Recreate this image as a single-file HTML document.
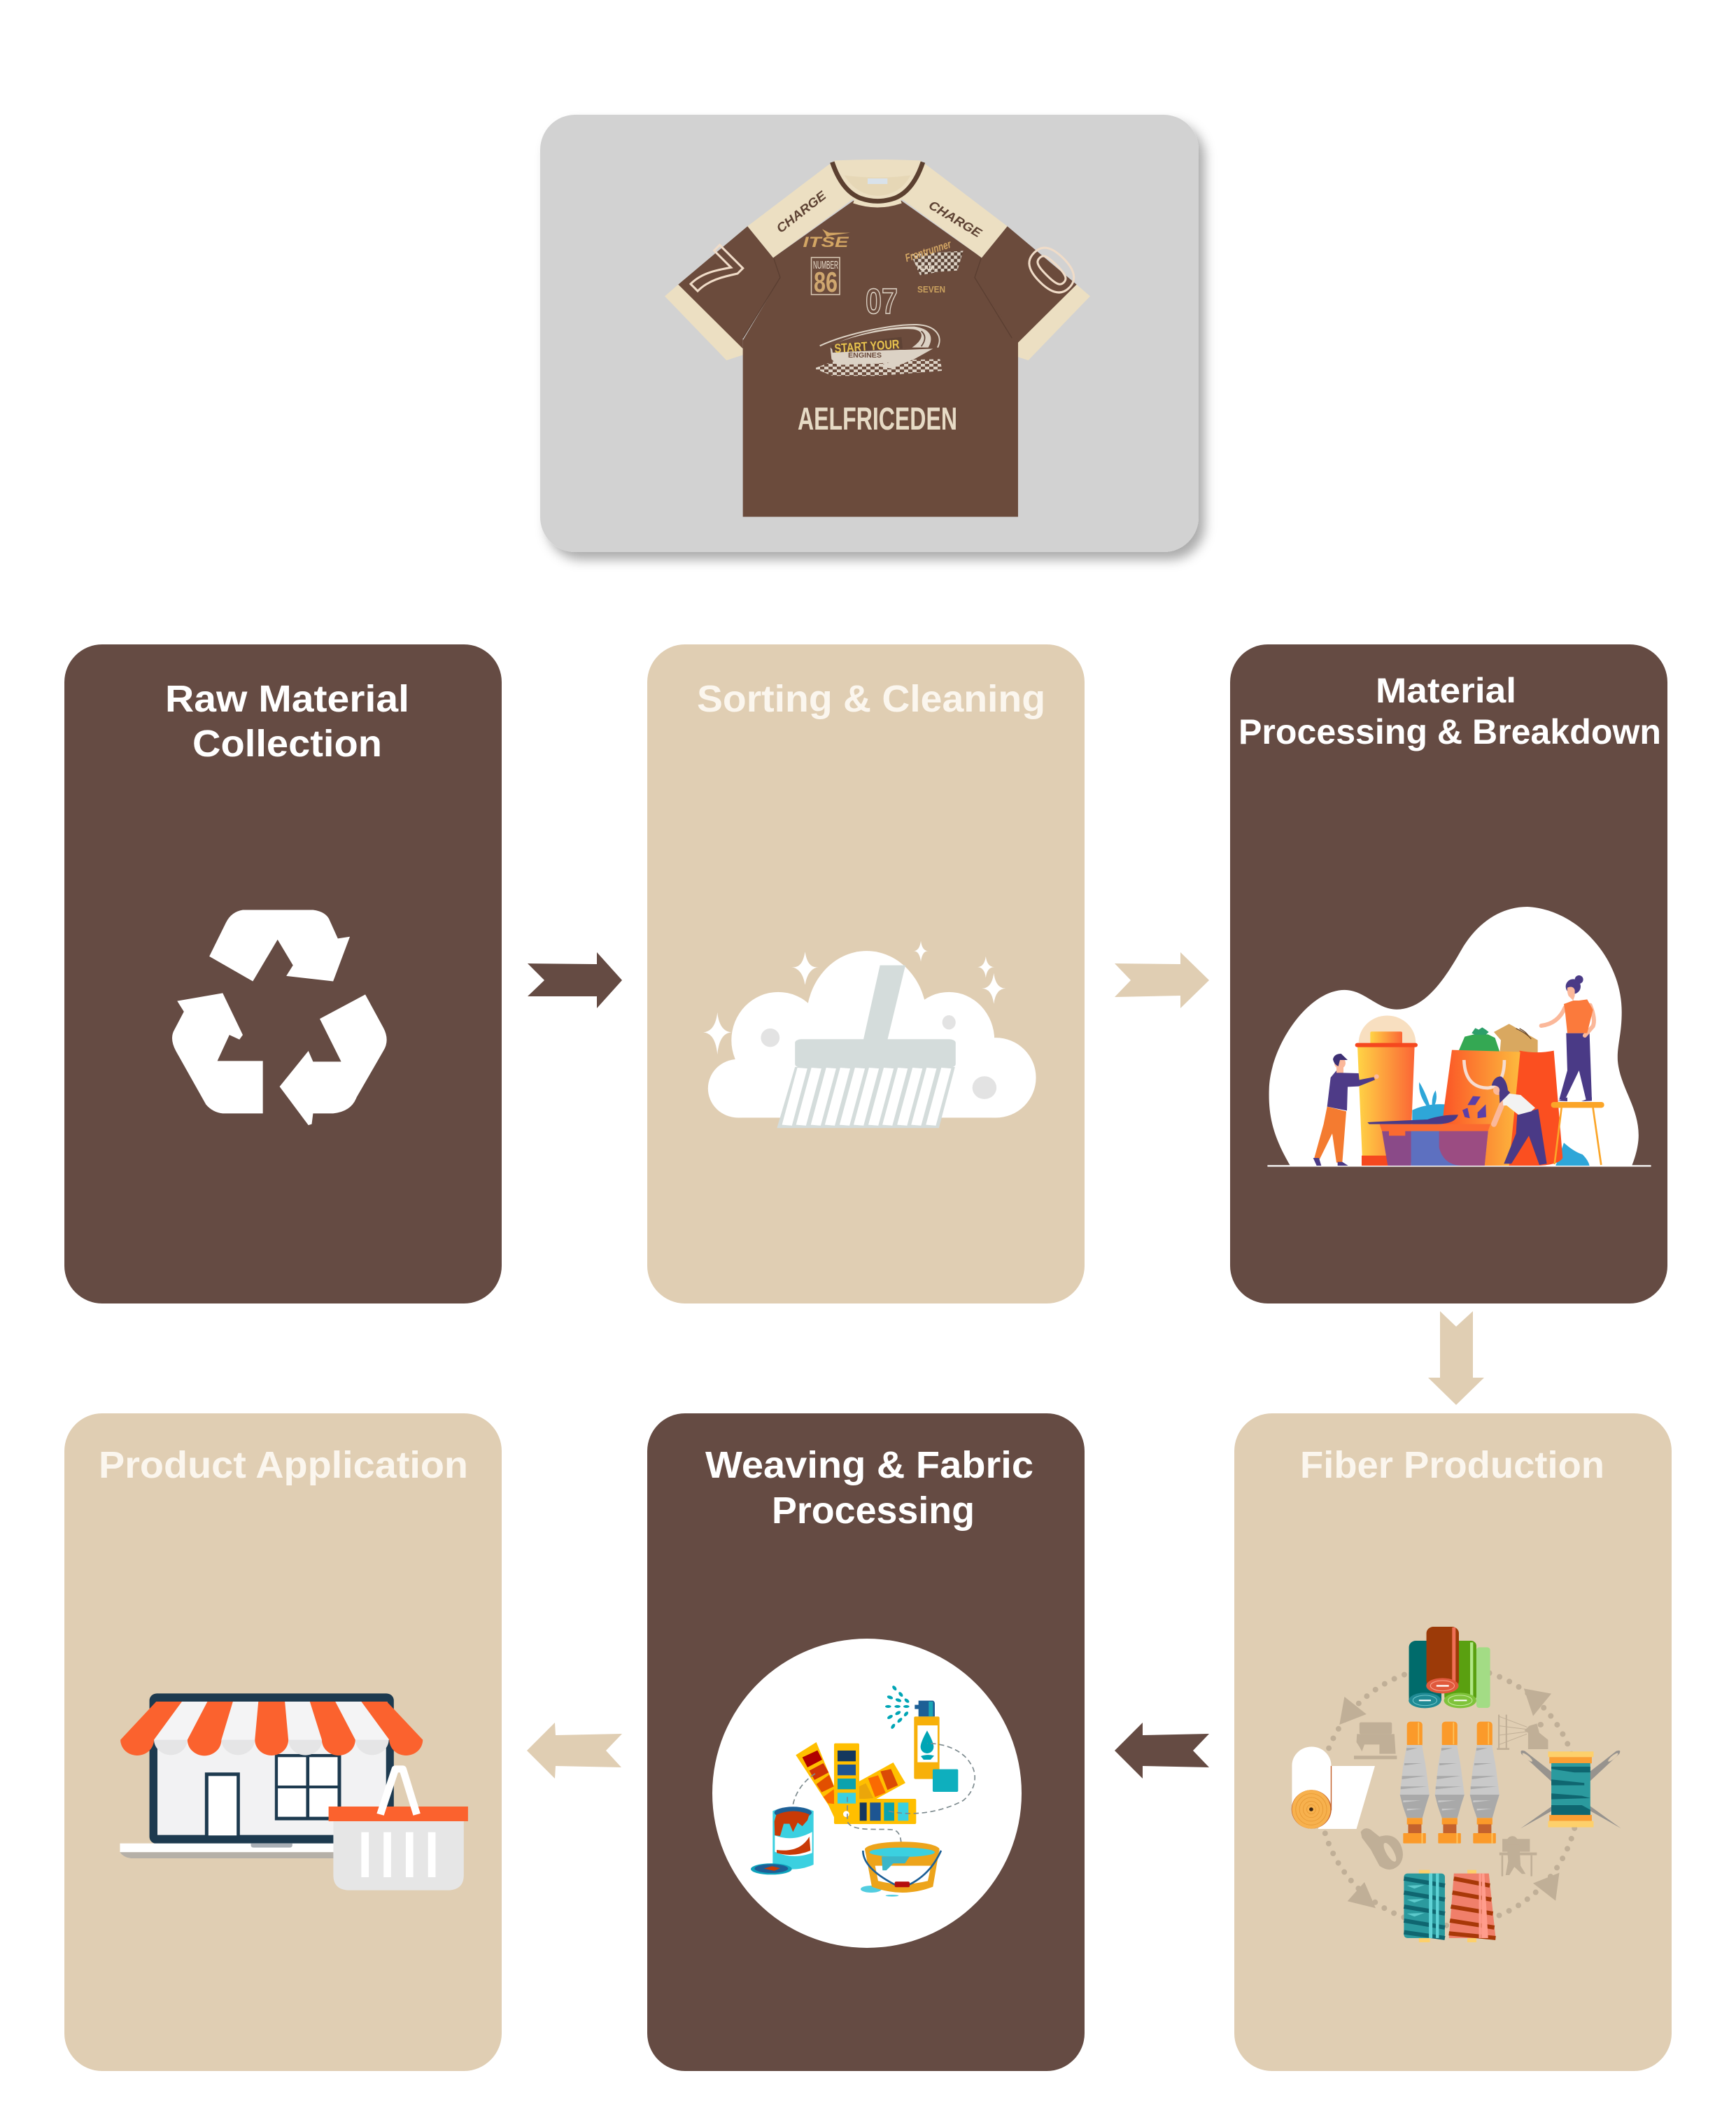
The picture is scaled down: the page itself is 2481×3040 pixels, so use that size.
<!DOCTYPE html>
<html><head><meta charset="utf-8"><style>
html,body{margin:0;padding:0;background:#fff}
svg{display:block}
text{font-family:"Liberation Sans",sans-serif}
</style></head><body>
<svg xmlns="http://www.w3.org/2000/svg" width="2481" height="3040" viewBox="0 0 2481 3040">
<defs>
<filter id="sh" x="-10%" y="-10%" width="125%" height="125%"><feDropShadow dx="9" dy="11" stdDeviation="8" flood-color="#000" flood-opacity=".33"/></filter>
<linearGradient id="gBin" x1="0" x2="1" y1="0" y2="0"><stop offset="0" stop-color="#ffd445"/><stop offset="1" stop-color="#fb6535"/></linearGradient>
<linearGradient id="gBag" x1="0" x2="1" y1="0" y2="0"><stop offset="0" stop-color="#fb5025"/><stop offset="1" stop-color="#fdba3e"/></linearGradient>
<pattern id="chk" width="36" height="24" patternUnits="userSpaceOnUse"><rect width="18" height="12" fill="#dcd2c5"/><rect x="18" y="12" width="18" height="12" fill="#dcd2c5"/></pattern>
<pattern id="chk2" width="28" height="28" patternUnits="userSpaceOnUse"><rect width="14" height="14" fill="#dcd2c5"/><rect x="14" y="14" width="14" height="14" fill="#dcd2c5"/></pattern>
<g id="bob">
<rect x="590" y="512" width="62" height="110" rx="14" fill="#fb9a2a"/><rect x="634" y="515" width="5" height="95" fill="#fdc25c"/>
<polygon points="590,612 650,612 665,700 680,825 650,925 592,925 562,825 575,700" fill="#c9c9c9"/>
<path d="M588 625h45l-45 12zM580 690h70l-70 10zM570 745h95l-95 14zM565 790h105l-105 12zM562 825h118l-12 40-16 60h-62l-16-50z" fill="#a9a9a9"/>
<path d="M575 850h70l-70 8zM590 885h60l-60 8z" fill="#c9c9c9"/>
<rect x="590" y="925" width="62" height="28" fill="#fb9a2a"/>
<rect x="595" y="952" width="53" height="40" fill="#c4622d"/>
<rect x="575" y="990" width="91" height="44" rx="3" fill="#fb9a2a"/><rect x="648" y="990" width="6" height="44" fill="#fdc25c"/>
</g>
<g id="sleeve">
<path d="M88,560L30,610 295,885 365,862V825Z" fill="#ecdfc2"/>
<polygon points="385,310 495,445 525,530 365,790 365,835 88,560" fill="#6b4b3c"/>
</g>
<g id="panel">
<path d="M385,310L725,52 760,28 835,195 495,445Z" fill="#ecdfc2"/>
<path d="M497,447L525,530 365,790" fill="none" stroke="#5a3e31" stroke-width="4"/>
</g>
</defs>
<rect width="2481" height="3040" fill="#fff"/>

<!-- top card -->
<rect x="772" y="164" width="941" height="625" rx="50" fill="#d2d2d2" filter="url(#sh)"/>
<!-- shirt (crop coords, 3x) -->
<g transform="translate(940 220) scale(.3333)">
<use href="#sleeve"/>
<g transform="translate(1884 0) scale(-1 1)"><use href="#sleeve"/></g>
<path d="M495,445L840,200Q942,250 1044,200L1389,445 1359,530 1545,800V1556H365V800L525,530Z" fill="#6b4b3c"/>
<use href="#panel"/>
<g transform="translate(1884 0) scale(-1 1)"><use href="#panel"/></g>
<path d="M760,28Q942,20 1124,28L1050,195Q942,240 835,195Z" fill="#ecdfc2"/>
<path d="M800,92Q942,110 1084,92Q1040,175 942,180Q850,175 800,92Z" fill="#e6d7b6"/>
<path d="M748,35Q790,160 870,190Q942,215 1015,190Q1095,160 1137,35" fill="none" stroke="#5c4030" stroke-width="20"/>
<path d="M840,205Q942,240 1044,205" fill="none" stroke="#ecdfc2" stroke-width="14"/>
<rect x="900" y="105" width="85" height="24" fill="#d9e2ea"/>
</g>
<!-- chest prints (crop2 coords, 3x) -->
<g transform="translate(1130 300) scale(.3333)">
<polygon points="135,82 165,98 255,98 170,110 155,116 148,100" fill="#d3a664"/>
<polygon points="515,190 740,175 715,260 640,265 555,280" fill="#584033"/>
<polygon points="515,190 740,175 715,260 640,265 555,280" fill="url(#chk2)"/>
<polygon points="100,680 180,650 640,640 650,690 370,712 180,712" fill="url(#chk)"/>
<path d="M170,590L190,610 470,600 560,600 480,650 350,660 200,665 175,640Z" fill="#dcd2c5"/>
<path d="M125,583C250,525 450,490 540,492C620,495 655,540 630,590" fill="none" stroke="#dcd2c5" stroke-width="6"/>
<path d="M200,570C300,530 450,505 525,512C585,520 560,565 520,590L590,590C615,545 600,510 530,500C420,500 300,525 200,570Z" fill="#dcd2c5"/>
<path d="M490,600L610,595 530,640 430,680 370,670 470,640Z" fill="#dcd2c5"/>
<path d="M175,580L475,545 480,595 180,612Z" fill="#5e4235"/>
<path d="M560,520Q590,545 560,585" stroke="#5e4235" stroke-width="5" fill="none"/>
</g>
<text x="1145" y="309" transform="rotate(-38 1145 303)" text-anchor="middle" font-size="18" font-weight="700" font-style="italic" fill="#5d4233" textLength="84" lengthAdjust="spacingAndGlyphs">CHARGE</text>
<text x="1365" y="319" transform="rotate(31 1365 313)" text-anchor="middle" font-size="18" font-weight="700" font-style="italic" fill="#5d4233" textLength="84" lengthAdjust="spacingAndGlyphs">CHARGE</text>
<text x="1180" y="353" text-anchor="middle" font-size="21" font-weight="700" font-style="italic" fill="#d3a664" textLength="65" lengthAdjust="spacingAndGlyphs">ITSE</text>
<rect x="1159.5" y="368" width="40.5" height="53" fill="none" stroke="#d9c9b5" stroke-width="1.5"/>
<text x="1180" y="384" text-anchor="middle" font-size="16" fill="#eadfce" textLength="36" lengthAdjust="spacingAndGlyphs">NUMBER</text>
<text x="1180" y="417" text-anchor="middle" font-size="41" font-weight="700" fill="#cfa76f" textLength="34" lengthAdjust="spacingAndGlyphs">86</text>
<text x="1260" y="448" text-anchor="middle" font-size="51" font-weight="700" fill="none" stroke="#dcd2c5" stroke-width="1.6" textLength="46" lengthAdjust="spacingAndGlyphs">07</text>
<text x="1331" y="418" text-anchor="middle" font-size="13" font-weight="700" fill="#c9a05e" font-family="Liberation Serif" textLength="40" lengthAdjust="spacingAndGlyphs">SEVEN</text>
<text x="1327" y="364" transform="rotate(-18 1327 361)" text-anchor="middle" font-size="16" font-style="italic" font-weight="700" fill="#d3a664" textLength="68" lengthAdjust="spacingAndGlyphs">Frontrunner</text>
<text x="1322" y="386" text-anchor="middle" font-size="9" font-weight="700" fill="#eadfce" font-family="Liberation Serif">TEAM</text>
<text x="1239" y="501" transform="rotate(-4 1239 496)" text-anchor="middle" font-size="18" font-weight="700" fill="#e8c34e" font-family="Liberation Serif" textLength="93" lengthAdjust="spacingAndGlyphs">START YOUR</text>
<text x="1236" y="511" text-anchor="middle" font-size="10" font-weight="700" fill="#6b4b3c" font-family="Liberation Serif" textLength="48" lengthAdjust="spacingAndGlyphs">ENGINES</text>
<text x="1254" y="614" text-anchor="middle" font-size="45" font-weight="700" fill="#e6dac5" textLength="228" lengthAdjust="spacingAndGlyphs">AELFRICEDEN</text>
<g transform="translate(1022 390) rotate(45)"><text x="0" y="36" text-anchor="middle" font-size="100" font-weight="700" fill="none" stroke="#f0dcc8" stroke-width="3">7</text></g>
<g transform="translate(1502 385) rotate(-45)"><text x="0" y="36" text-anchor="middle" font-size="100" font-weight="700" fill="none" stroke="#f0dcc8" stroke-width="3">0</text></g>

<!-- cards -->
<rect x="92" y="921" width="625" height="942" rx="54" fill="#654b43"/>
<rect x="925" y="921" width="625" height="942" rx="54" fill="#e0ceb3"/>
<rect x="1758" y="921" width="625" height="942" rx="54" fill="#654b43"/>
<rect x="92" y="2020" width="625" height="940" rx="54" fill="#e0ceb3"/>
<rect x="925" y="2020" width="625" height="940" rx="54" fill="#654b43"/>
<rect x="1764" y="2020" width="625" height="940" rx="54" fill="#e0ceb3"/>

<!-- titles -->
<g font-weight="700" fill="#fff">
<text x="236" y="1017" font-size="54" textLength="349" lengthAdjust="spacingAndGlyphs">Raw Material</text>
<text x="275" y="1081" font-size="54" textLength="271" lengthAdjust="spacingAndGlyphs">Collection</text>
<text x="996" y="1017" font-size="54" textLength="498" lengthAdjust="spacingAndGlyphs" fill="#fbf6ee">Sorting &amp; Cleaning</text>
<text x="1966" y="1004" font-size="50" textLength="201" lengthAdjust="spacingAndGlyphs">Material</text>
<text x="1770" y="1063" font-size="50" textLength="604" lengthAdjust="spacingAndGlyphs">Processing &amp; Breakdown</text>
<text x="141" y="2112" font-size="54" textLength="528" lengthAdjust="spacingAndGlyphs" fill="#fbf6ee">Product Application</text>
<text x="1008" y="2112" font-size="54" textLength="469" lengthAdjust="spacingAndGlyphs">Weaving &amp; Fabric</text>
<text x="1103" y="2177" font-size="54" textLength="290" lengthAdjust="spacingAndGlyphs">Processing</text>
<text x="1858" y="2112" font-size="54" textLength="435" lengthAdjust="spacingAndGlyphs" fill="#fbf6ee">Fiber Production</text>
</g>

<!-- arrows -->
<polygon points="754,1377 853,1378 853,1361 889,1401 853,1441 853,1424 754,1424 778,1401" fill="#654b43"/>
<polygon points="1593,1377 1687,1378 1687,1361 1728,1401 1687,1441 1687,1423 1593,1425 1616,1401" fill="#e0ceb3"/>
<polygon points="2058,1874 2081,1896 2105,1874 2105,1969 2121,1969 2081,2008 2041,1969 2058,1969" fill="#e0ceb3"/>
<polygon points="1728,2478 1633,2480 1633,2462 1593,2502 1633,2542 1633,2524 1728,2526 1705,2502" fill="#654b43"/>
<polygon points="889,2478 794,2480 793,2462 753,2502 793,2542 794,2524 888,2526 866,2502" fill="#e0ceb3"/>

<!-- recycle + broom -->
<g transform="translate(60 900) scale(.9566 .5102)">
<g fill="#fff">
<path d="M300,785H405Q425,790 430,815L442,865 460,860 435,985 365,970 375,940 352,868 315,985 250,915 275,820Q283,790 300,785Z"/>
<path d="M270,1018L300,1135 295,1148 280,1135 262,1208H330V1355H270Q255,1352 245,1330L200,1180Q190,1145 198,1120L212,1070 202,1040Z"/>
<path d="M483,1022L510,1115Q520,1150 510,1180L470,1310Q462,1350 435,1355H405L403,1385 398,1388 355,1280 398,1180 405,1210H447L415,1090Z"/>
<ellipse cx="1232" cy="1090" rx="90" ry="190"/>
<ellipse cx="1100" cy="1150" rx="70" ry="135"/>
<ellipse cx="1355" cy="1150" rx="68" ry="135"/>
<ellipse cx="1040" cy="1285" rx="45" ry="82"/>
<ellipse cx="1425" cy="1255" rx="60" ry="112"/>
<rect x="1040" y="1180" width="385" height="187"/>
<path d="M1140,902Q1144,950 1160,945Q1144,950 1140,995Q1136,950 1120,945Q1136,950 1140,902Z"/>
<path d="M1313,872Q1315,900 1324,900Q1315,900 1313,930Q1311,900 1302,900Q1311,900 1313,872Z"/>
<path d="M1410,915Q1412,945 1423,945Q1412,945 1410,975Q1408,945 1397,945Q1408,945 1410,915Z"/>
<path d="M1422,962Q1425,1005 1440,1005Q1425,1005 1422,1048Q1419,1005 1404,1005Q1419,1005 1422,962Z"/>
<path d="M1009,1072Q1012,1125 1030,1128Q1012,1130 1009,1190Q1006,1130 988,1128Q1006,1125 1009,1072Z"/>
</g>
<ellipse cx="1088" cy="1143" rx="14" ry="26" fill="#e3e3e3"/>
<ellipse cx="1355" cy="1100" rx="10" ry="20" fill="#e3e3e3"/>
<ellipse cx="1408" cy="1283" rx="18" ry="32" fill="#e3e3e3"/>
<polygon points="1252,940 1290,940 1263,1150 1227,1150" fill="#d4dcdb"/>
<rect x="1125" y="1147" width="240" height="80" rx="10" fill="#d4dcdb"/>
<polygon points="1125,1225 1364,1225 1340,1396 1098,1396" fill="#d4dcdb"/>
<g stroke="#fff" stroke-width="15">
<line x1="1136" y1="1228" x2="1113" y2="1388"/><line x1="1157" y1="1228" x2="1134" y2="1388"/><line x1="1179" y1="1228" x2="1156" y2="1388"/><line x1="1200" y1="1228" x2="1177" y2="1388"/><line x1="1222" y1="1228" x2="1199" y2="1388"/><line x1="1243" y1="1228" x2="1220" y2="1388"/><line x1="1265" y1="1228" x2="1242" y2="1388"/><line x1="1286" y1="1228" x2="1263" y2="1388"/><line x1="1308" y1="1228" x2="1285" y2="1388"/><line x1="1329" y1="1228" x2="1306" y2="1388"/><line x1="1351" y1="1228" x2="1328" y2="1388"/>
</g>
</g>

<!-- processing blob -->
<g transform="translate(1560 900) scale(.574 .7334)">
<path d="M495,1045C450,985 440,945 442,895C445,810 540,702 630,702C680,702 710,740 760,740C830,740 880,680 920,625C960,570 1020,540 1085,540C1210,545 1320,640 1320,745C1320,790 1308,810 1310,840C1315,890 1362,930 1362,985C1362,1005 1355,1025 1345,1045Z" fill="#fff"/>
<line x1="438" y1="1045" x2="1393" y2="1045" stroke="#fff" stroke-width="3"/>
</g>
<!-- processing figures (crop3 coords, 3x) -->
<g transform="translate(1860 1380) scale(.3333)">
<path d="M475,620Q540,590 615,595V858H475Z" fill="#2ea6d8"/>
<path d="M505,500Q530,540 550,600H535Q500,550 505,500ZM575,535Q585,570 570,600H560Q558,560 575,535Z" fill="#2ea6d8"/>
<path d="M1090,858Q1115,790 1125,760Q1170,800 1205,810Q1230,835 1235,858Z" fill="#2ea6d8"/>
<path d="M245,332A122,117 0 0 1 490,332Z" fill="#f8dfc0"/>
<rect x="295" y="283" width="137" height="52" rx="6" fill="url(#gBin)"/>
<polygon points="240,345 485,345 465,858 262,858" fill="url(#gBin)"/>
<rect x="230" y="332" width="268" height="18" rx="9" fill="#f5481f"/>
<rect x="258" y="815" width="112" height="43" fill="#f5481f"/>
<path d="M110,605L192,625 175,845H150L132,720 78,830 55,825 95,680Z" fill="#f47b30"/>
<path d="M50,825L75,825 85,858H65ZM155,842H175L200,858H155Z" fill="#4a3a86"/>
<path d="M150,450L180,460 245,462 248,490 310,478 315,490 245,518 198,520 195,622 110,605 125,480Z" fill="#4e3b87"/>
<circle cx="322" cy="476" r="10" fill="#fbb89a"/>
<circle cx="165" cy="418" r="24" fill="#fbb89a"/><rect x="150" y="430" width="30" height="30" fill="#fbb89a"/>
<path d="M135,402Q140,378 170,378L198,405H165L158,432Q140,425 135,402Z" fill="#3d2f74"/>
<path d="M825,285L890,250 1013,320V380H850L855,320Z" fill="#d9a860"/>
<path d="M920,270Q965,290 985,315M935,270Q965,285 975,305" stroke="#6d4b2b" stroke-width="4" fill="none"/>
<path d="M670,375L700,305 740,295H800L830,310 855,385H670Z" fill="#34a853"/>
<path d="M730,290L745,268 760,275 775,265 790,275 803,285 790,297H745Z" fill="#2d9f6a"/>
<path d="M935,365Q1010,380 1082,365L1120,825Q1100,858 1000,858H880Z" fill="#fb4f20"/>
<polygon points="645,362 938,370 890,858 590,858 610,620" fill="url(#gBag)"/>
<path d="M697,405C700,500 750,525 800,525C850,520 870,470 870,405" fill="none" stroke="#f6dcd0" stroke-width="14"/>
<g fill="#5a3fa8"><polygon points="712,598 735,560 768,562 745,598"/><polygon points="690,620 712,610 722,655 700,650"/><polygon points="755,630 790,595 792,650 755,655"/></g>
<polygon points="345,710 478,710 470,858 370,858" fill="#8a4a88"/>
<polygon points="470,710 800,710 785,858 470,858" fill="#5d70c0"/>
<path d="M590,710V780Q610,858 690,858H785L800,710Z" fill="#9b4c82"/>
<path d="M335,680H810L800,710H445V730H375V710H345Z" fill="#fb6a30"/>
<path d="M283,672Q430,665 540,660Q600,640 672,640Q660,680 580,680L290,680Z" fill="#4a3a86"/>
<path d="M925,640L1015,615 1052,850 1020,855 975,730 900,850H868L920,720Z" fill="#4a3a86"/>
<path d="M862,590L825,680" stroke="#fbb89a" stroke-width="24" stroke-linecap="round"/>
<path d="M860,545L940,555 1002,610 985,625 930,640 880,600 865,600Z" fill="#f2f2f2"/>
<circle cx="842" cy="535" r="20" fill="#fbb89a"/>
<path d="M815,515Q825,475 855,475Q880,490 885,535L895,545 850,590 848,545Q855,520 830,515Z" fill="#4a3a86"/>
<path d="M1135,290H1235L1245,575H1220L1190,450 1130,575H1105L1140,450Z" fill="#4a3a86"/>
<path d="M1100,580L1140,565V582ZM1200,582L1245,565V580Z" fill="#4a3a86"/>
<path d="M1130,180Q1100,250 1028,258" fill="none" stroke="#fbb89a" stroke-width="18" stroke-linecap="round"/>
<path d="M1238,170Q1262,230 1250,260L1215,300" fill="none" stroke="#fbb89a" stroke-width="18" stroke-linecap="round"/>
<polygon points="1125,165 1165,150 1190,150 1225,145 1250,190 1225,290 1140,290 1130,195" fill="#fb7a3c"/>
<circle cx="1190" cy="60" r="18" fill="#4a3a86"/>
<circle cx="1165" cy="90" r="32" fill="#4a3a86"/>
<path d="M1140,95Q1165,85 1172,105V130L1165,150 1145,130Q1138,115 1140,95Z" fill="#fbb89a"/>
<rect x="1070" y="585" width="228" height="25" rx="12" fill="#fba528"/>
<path d="M1115,610L1085,852M1250,610L1285,855" stroke="#fba528" stroke-width="8"/>
</g>

<!-- weaving -->
<circle cx="1239" cy="2563" r="221" fill="#fff"/>
<g transform="translate(1000 2320) scale(.3333)">
<g fill="#00a5b5">
<ellipse cx="835" cy="278" rx="7" ry="12" transform="rotate(-40 835 278)"/><ellipse cx="862" cy="305" rx="7" ry="12" transform="rotate(-40 862 305)"/><ellipse cx="816" cy="318" rx="7" ry="13" transform="rotate(-70 816 318)"/><ellipse cx="852" cy="330" rx="7" ry="13" transform="rotate(-70 852 330)"/><ellipse cx="888" cy="332" rx="7" ry="12" transform="rotate(-50 888 332)"/><ellipse cx="808" cy="357" rx="6" ry="13" transform="rotate(90 808 357)"/><ellipse cx="848" cy="357" rx="6" ry="13" transform="rotate(90 848 357)"/><ellipse cx="886" cy="357" rx="6" ry="13" transform="rotate(90 886 357)"/><ellipse cx="850" cy="385" rx="7" ry="13" transform="rotate(60 850 385)"/><ellipse cx="885" cy="389" rx="7" ry="12" transform="rotate(40 885 389)"/><ellipse cx="816" cy="402" rx="7" ry="13" transform="rotate(60 816 402)"/><ellipse cx="858" cy="416" rx="7" ry="13" transform="rotate(45 858 416)"/><ellipse cx="829" cy="442" rx="7" ry="12" transform="rotate(35 829 442)"/>
</g>
<path d="M938,332H1000Q1008,335 1008,345V400H938V368H922V350H938Z" fill="#1d5f96"/>
<rect x="982" y="336" width="18" height="64" fill="#19a6b5"/>
<rect x="919" y="400" width="109" height="268" rx="6" fill="#f7b00a"/>
<rect x="934" y="438" width="86" height="158" fill="#fff"/>
<path d="M975,460Q1003,510 1003,530A28,28 0 0 1 947,530Q947,510 975,460Z" fill="#00a5b5"/>
<path d="M948,570Q975,560 1005,568L990,585H960Z" fill="#00a5b5"/>
<rect x="999" y="626" width="109" height="97" rx="5" fill="#0eafbe"/>
<polygon points="412,565 500,510 585,720 580,840 552,780" fill="#ffbf00"/>
<polygon points="440,575 505,545 525,585 462,618" fill="#b00000"/>
<polygon points="470,632 530,600 553,640 492,672" fill="#cf3407"/>
<polygon points="500,690 555,650 575,700 523,725" fill="#e24f00"/>
<polygon points="530,745 575,712 578,775 550,772" fill="#fa6a02"/>
<polygon points="680,680 830,597 882,685 745,760 682,770" fill="#ffbf00"/>
<polygon points="775,635 820,625 850,695 805,715" fill="#db4a06"/>
<polygon points="722,665 765,652 797,727 752,745" fill="#fa6a02"/>
<polygon points="684,700 712,686 745,750 684,755" fill="#eba60a"/>
<rect x="576" y="515" width="108" height="345" rx="6" fill="#ffbf00"/>
<rect x="576" y="753" width="352" height="108" rx="6" fill="#ffbf00"/>
<rect x="591" y="546" width="78" height="46" fill="#14385e"/>
<rect x="591" y="606" width="78" height="46" fill="#1d5592"/>
<rect x="591" y="666" width="78" height="46" fill="#0ca2ad"/>
<rect x="591" y="727" width="78" height="46" fill="#3bd0e0"/>
<rect x="686" y="769" width="30" height="78" fill="#14385e"/>
<rect x="730" y="769" width="46" height="78" fill="#1d5592"/>
<rect x="790" y="769" width="44" height="78" fill="#0ca2ad"/>
<rect x="850" y="769" width="45" height="78" fill="#3bd0e0"/>
<circle cx="628" cy="818" r="13" fill="#fff"/>
<g fill="none" stroke="#7d8a8e" stroke-width="5" stroke-dasharray="22 14">
<path d="M495,645C440,680 395,740 395,825"/>
<path d="M633,745V850C650,895 760,880 820,885C860,885 865,925 865,975"/>
<path d="M810,805C860,820 1000,830 1130,760C1190,710 1190,640 1160,600C1130,550 1060,515 975,515"/>
</g>
<path d="M313,805Q400,770 488,805V1035Q400,1075 313,1035Z" fill="#3bd0e0"/>
<ellipse cx="400" cy="812" rx="80" ry="25" fill="#1d5f96"/>
<path d="M328,822Q400,790 470,820L462,845 440,870 420,855 400,895 385,860 360,860 345,912 322,910 320,850Z" fill="#c93a06"/>
<path d="M322,910Q400,940 482,895V985Q400,1015 322,980Z" fill="#fff"/>
<path d="M330,972Q430,985 470,915L475,975Q400,1005 330,985Z" fill="#c93a06"/>
<ellipse cx="307" cy="1054" rx="88" ry="24" fill="#0ea3bc"/>
<ellipse cx="307" cy="1052" rx="72" ry="19" fill="#1d5f96"/>
<path d="M275,1052L310,1042 345,1050 320,1062Z" fill="#c93a06"/>
<ellipse cx="735" cy="1140" rx="45" ry="15" fill="#52cde0"/>
<path d="M708,968L1028,968 1000,1130Q870,1180 738,1130Z" fill="#eda41b"/>
<ellipse cx="868" cy="970" rx="160" ry="33" fill="#eda41b"/>
<ellipse cx="868" cy="982" rx="140" ry="20" fill="#3bd0e0"/>
<path d="M752,1040H992L978,1105Q870,1132 765,1105Z" fill="#fff"/>
<path d="M780,1000L900,1000 880,1030 830,1030 800,1060 784,1060Z" fill="#3bb6c8"/>
<path d="M700,975Q700,1050 835,1120H900Q990,1075 1035,975" fill="none" stroke="#1d5f96" stroke-width="8"/>
<rect x="836" y="1108" width="64" height="24" rx="6" fill="#b50e0e"/>
<ellipse cx="825" cy="1168" rx="28" ry="4" fill="#52cde0"/>
</g>

<!-- store -->
<g transform="translate(150 2380) scale(.3571 .3333)">
<rect x="178" y="121" width="978" height="645" rx="30" fill="#1d3a4f"/>
<rect x="210" y="156" width="915" height="572" fill="#f2f2f3"/>
<rect x="400" y="460" width="140" height="270" fill="#1d3a4f"/>
<rect x="414" y="475" width="113" height="255" fill="#fff"/>
<rect x="680" y="381" width="265" height="284" fill="#1d3a4f"/>
<rect x="692" y="394" width="113" height="122" fill="#fff"/><rect x="818" y="394" width="113" height="122" fill="#fff"/>
<rect x="692" y="528" width="113" height="122" fill="#fff"/><rect x="818" y="528" width="113" height="122" fill="#fff"/>
<g fill="#e5e5e6"><path d="M196,318H330A67,67 0 0 1 196,318Z"/><path d="M466,318H600A67,67 0 0 1 466,318Z"/><path d="M734,318H870A67,67 0 0 1 734,318Z"/><path d="M1002,318H1136A67,67 0 0 1 1002,318Z"/></g>
<polygon points="205,156 1130,156 1138,320 196,320" fill="#f4f4f5"/>
<g fill="#fb622e">
<path d="M205,156H308L196,320A67,67 0 0 1 62,320Z"/>
<path d="M410,156H512L466,320A67,67 0 0 1 330,320Z"/>
<path d="M614,156H720L734,320A67,67 0 0 1 600,320Z"/>
<path d="M820,156H922L1002,320A67,67 0 0 1 868,320Z"/>
<path d="M1026,156H1128L1272,320A67,67 0 0 1 1138,320Z"/>
</g>
<rect x="60" y="764" width="1000" height="38" fill="#fff"/>
<path d="M60,802H1000V828H105Q75,825 60,802Z" fill="#b5b0a8"/>
<path d="M584,764H750V772Q750,782 740,782H594Q584,782 584,772Z" fill="#a9afb6"/>
<path d="M895,660H1453V669H1436V900Q1436,965 1370,965H980Q914,965 914,900V669H895Z" fill="#e6e6e6"/>
<rect x="895" y="606" width="558" height="63" fill="#fb622e"/>
<g fill="#fff"><rect x="1026" y="716" width="30" height="193"/><rect x="1115" y="716" width="30" height="193"/><rect x="1204" y="716" width="30" height="193"/><rect x="1293" y="716" width="30" height="193"/></g>
<path d="M1102,640L1162,445 1192,445 1248,640" fill="none" stroke="#fff" stroke-width="30" stroke-linejoin="round"/>
</g>

<!-- fiber illustration -->
<circle cx="2071" cy="2567" r="185" fill="none" stroke="#c0af97" stroke-width="8" stroke-linecap="round" stroke-dasharray="0 15.5"/>
<g transform="translate(1800 2290) scale(.3571 .3333)">
<g fill="#c0af97">
<path d="M1058,370L1168,392 1095,488Z"/><path d="M340,405L428,480 320,525Z"/><path d="M1200,1160L1185,1280 1095,1205Z"/><path d="M420,1200L465,1312 352,1282Z"/>
<rect x="400" y="515" width="130" height="50" rx="6"/><path d="M390,565H540L545,650H480V610H420L410,640 400,620 388,600Z"/><rect x="378" y="658" width="172" height="15"/>
<rect x="955" y="482" width="6" height="150"/><rect x="985" y="482" width="6" height="150"/><rect x="950" y="625" width="50" height="8"/><path d="M1080,530L1110,520 1120,560 1155,590V630H1075V560L1060,550Z"/><circle cx="1125" cy="525" r="12"/>
<path d="M960,490L1070,535M960,530L1070,545M960,570L1070,555M960,610L1070,565" stroke="#c0af97" stroke-width="3" fill="none"/>
<rect x="972" y="1015" width="110" height="55"/><rect x="960" y="1073" width="150" height="12"/><circle cx="1012" cy="1025" r="22"/><path d="M990,1040H1040L1045,1130 1065,1165H1050L1020,1135 1000,1170H985L995,1110Z"/><rect x="968" y="1085" width="7" height="90"/><rect x="1085" y="1085" width="7" height="90"/>
<path d="M405,985Q420,960 445,975L480,1005Q540,985 565,1040Q585,1090 560,1125Q525,1165 480,1130L445,1060 410,1010Z"/>
</g>
<ellipse cx="522" cy="1072" rx="15" ry="45" fill="#e0ceb3" transform="rotate(-28 522 1072)"/>
<polygon points="287,702 462,702 388,972 235,972" fill="#fff"/>
<path d="M130,700A78,80 0 0 1 287,700V888H130Z" fill="#fff"/>
<rect x="285" y="702" width="4" height="190" fill="#c4622d"/>
<ellipse cx="208" cy="888" rx="80" ry="83" fill="#c4622d"/>
<ellipse cx="207" cy="888" rx="77" ry="83" fill="#f7b14e"/>
<g fill="none" stroke="#e89a35" stroke-width="2.5"><ellipse cx="207" cy="888" rx="62" ry="67"/><ellipse cx="207" cy="888" rx="47" ry="51"/><ellipse cx="207" cy="888" rx="32" ry="35"/><ellipse cx="207" cy="888" rx="18" ry="20"/></g>
<ellipse cx="207" cy="888" rx="8" ry="8" fill="#3a2412"/>
<rect x="868" y="193" width="55" height="260" rx="12" fill="#a3dc85"/>
<rect x="598" y="165" width="130" height="260" rx="28" fill="#006b6b"/>
<rect x="598" y="300" width="130" height="122" fill="#006b6b"/>
<ellipse cx="662" cy="421" rx="65" ry="33" fill="#1f8a94"/><ellipse cx="662" cy="421" rx="48" ry="22" fill="none" stroke="#6cc5c9" stroke-width="3"/><rect x="638" y="418" width="48" height="6" fill="#fff"/>
<rect x="740" y="165" width="128" height="260" rx="22" fill="#5aa010"/><rect x="843" y="172" width="12" height="240" fill="#b1e887"/>
<ellipse cx="803" cy="421" rx="65" ry="33" fill="#7fc33a"/><ellipse cx="803" cy="421" rx="48" ry="22" fill="none" stroke="#c7eb9f" stroke-width="3"/><rect x="778" y="418" width="52" height="6" fill="#fff"/>
<rect x="668" y="105" width="130" height="260" rx="28" fill="#9c3a08"/><rect x="771" y="108" width="14" height="240" fill="#ef6f55"/>
<ellipse cx="732" cy="358" rx="65" ry="33" fill="#e0593c"/><ellipse cx="732" cy="358" rx="48" ry="22" fill="none" stroke="#f7a48d" stroke-width="3"/><rect x="708" y="355" width="50" height="7" fill="#fff"/>
<use href="#bob"/><use href="#bob" x="140"/><use href="#bob" x="280"/>
<path d="M1048,650Q1040,630 1062,638L1190,745 1170,770Z" fill="#97938e"/>
<path d="M1440,650Q1450,630 1428,638L1300,745 1320,770Z" fill="#97938e"/>
<ellipse cx="1072" cy="665" rx="7" ry="26" fill="#e0ceb3" transform="rotate(-48 1072 665)"/>
<ellipse cx="1415" cy="665" rx="7" ry="26" fill="#e0ceb3" transform="rotate(48 1415 665)"/>
<polygon points="1045,970 1190,860 1195,880" fill="#97938e"/><polygon points="1447,970 1305,860 1300,880" fill="#97938e"/>
<rect x="1155" y="640" width="182" height="24" fill="#fdd06b"/><rect x="1160" y="664" width="170" height="27" fill="#fb9f33"/>
<rect x="1168" y="690" width="156" height="222" fill="#2b9a9e"/>
<path d="M1168,705H1324V730H1260L1168,715ZM1168,760L1300,775V785L1168,785ZM1168,820L1290,830 1324,840 1168,845ZM1168,870H1290L1324,890V912H1168Z" fill="#0f6670"/>
<rect x="1160" y="912" width="170" height="26" fill="#fb9f33"/><rect x="1155" y="938" width="182" height="27" fill="#fdd06b"/>
<rect x="638" y="1148" width="44" height="310" fill="#fdd06b"/>
<rect x="578" y="1163" width="164" height="277" rx="14" fill="#2b9a9e"/>
<g stroke="#0f6670" stroke-width="18" fill="none"><path d="M578,1185L742,1215M578,1245L742,1275M578,1305L742,1335M578,1365L742,1395M578,1415L742,1440"/></g>
<g fill="#5cc9cb"><polygon points="590,1215 660,1212 620,1228"/><polygon points="590,1275 660,1272 620,1288"/><polygon points="590,1335 660,1332 620,1348"/></g>
<rect x="678" y="1163" width="14" height="277" fill="#5fd3d6"/><rect x="706" y="1163" width="12" height="277" fill="#5fd3d6"/>
<rect x="832" y="1148" width="36" height="310" fill="#fdd06b"/>
<polygon points="778,1163 918,1163 945,1440 758,1440" fill="#f07f6a"/>
<g stroke="#a83808" stroke-width="18" fill="none"><path d="M778,1185L922,1215M772,1245L928,1275M766,1305L934,1335M762,1365L940,1395M758,1420L945,1440"/></g>
<polygon points="890,1163 900,1163 915,1440 888,1440" fill="#ff9c8c"/><rect x="878" y="1163" width="9" height="277" fill="#ff9c8c"/>
</g>
</svg>
</body></html>
